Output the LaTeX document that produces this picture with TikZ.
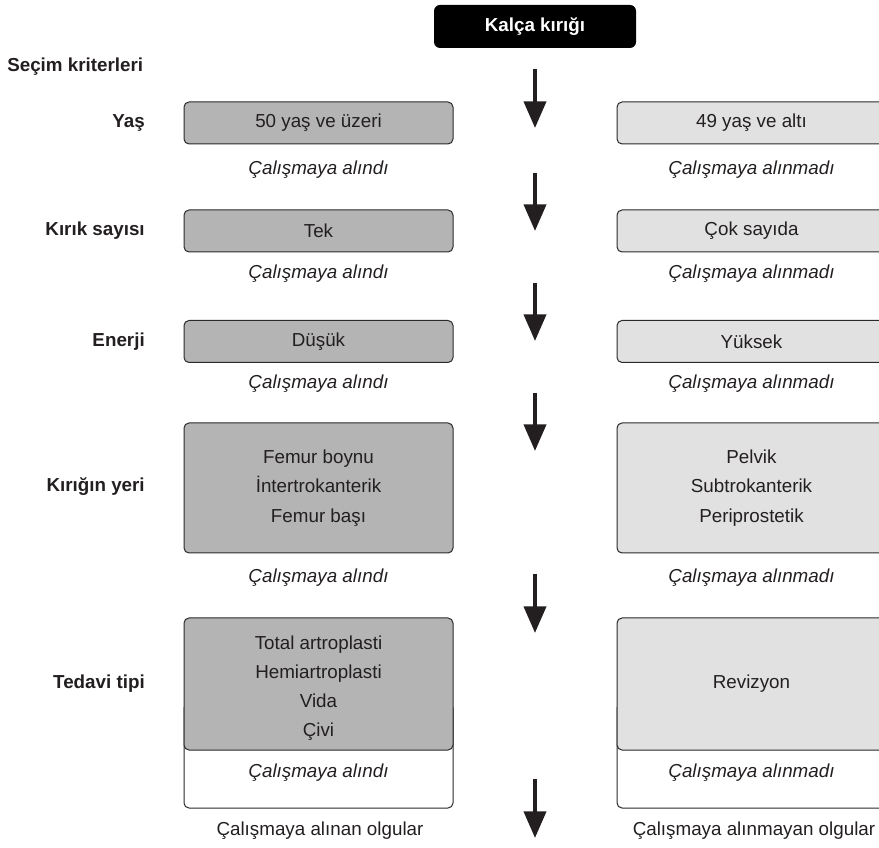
\documentclass[tikz,border=0pt]{standalone}
\usepackage{fontspec}
\setmainfont{Liberation Sans}
\usetikzlibrary{arrows.meta}
\definecolor{dgray}{HTML}{B4B4B4}
\definecolor{lgray}{HTML}{E1E1E1}
\definecolor{edge}{HTML}{2A2A2A}
\definecolor{ink}{HTML}{231F20}
\begin{document}
\begin{tikzpicture}[x=0.75pt,y=-0.75pt,
  every node/.style={font=\fontsize{14.1}{21.9}\selectfont, text=ink},
  box/.style={draw=edge, line width=0.75pt, rounded corners=3.75pt, minimum width=201.75pt, inner sep=0pt, align=center},
  inbox/.style={box, fill=dgray},
  outbox/.style={box, fill=lgray},
  wbox/.style={box, fill=white},
  crit/.style={anchor=east, inner xsep=0pt, font=\fontsize{14.1}{21.9}\selectfont\bfseries},
  note/.style={font=\fontsize{14.1}{21.9}\selectfont\itshape},
  flow/.style={line width=3pt, draw=ink, -{Triangle[width=16.5pt,length=20pt]}}
]
\useasboundingbox (0,0) rectangle (879,848);
\clip (0,0) rectangle (879,848);

% top
\node[fill=black, rounded corners=4.5pt, minimum width=151.5pt, minimum height=32.25pt, inner sep=0pt,
      text=white, font=\fontsize{14.1}{21.9}\selectfont\bfseries] (top) at (535,26.5) {Kalça kırığı};

\node[anchor=west, inner xsep=0pt, font=\fontsize{14.1}{21.9}\selectfont\bfseries] (sec) at (7,67) {Seçim kriterleri};

% criteria labels
\node[crit] (l1) at (145,123) {Yaş};
\node[crit] (l2) at (145,231) {Kırık sayısı};
\node[crit] (l3) at (145,341.5) {Enerji};
\node[crit] (l4) at (145,487) {Kırığın yeri};
\node[crit] (l5) at (145,684) {Tedavi tipi};

% row 1
\node[inbox, minimum height=31.5pt] (i1) at (318.5,123) {50 yaş ve üzeri};
\node[outbox, minimum height=31.5pt] (o1) at (751.5,123) {49 yaş ve altı};
\node[note] (ni1) at (318.5,170) {Çalışmaya alındı};
\node[note] (no1) at (751.5,170) {Çalışmaya alınmadı};

% row 2
\node[inbox, minimum height=31.5pt] (i2) at (318.5,231) {Tek};
\node[outbox, minimum height=31.5pt] (o2) at (751.5,231) {Çok sayıda};
\node[note] (ni2) at (318.5,274) {Çalışmaya alındı};
\node[note] (no2) at (751.5,274) {Çalışmaya alınmadı};

% row 3
\node[inbox, minimum height=31.5pt] (i3) at (318.5,341.5) {Düşük};
\node[outbox, minimum height=31.5pt] (o3) at (751.5,341.5) {Yüksek};
\node[note] (ni3) at (318.5,384) {Çalışmaya alındı};
\node[note] (no3) at (751.5,384) {Çalışmaya alınmadı};

% row 4
\node[inbox, minimum height=97.5pt] (i4) at (318.5,488) {Femur boynu\\İntertrokanterik\\Femur başı};
\node[outbox, minimum height=97.5pt] (o4) at (751.5,488) {Pelvik\\Subtrokanterik\\Periprostetik};
\node[note] (ni4) at (318.5,578) {Çalışmaya alındı};
\node[note] (no4) at (751.5,578) {Çalışmaya alınmadı};

% row 5
\node[wbox, minimum height=78.75pt] (wi5) at (318.5,755.5) {};
\node[wbox, minimum height=78.75pt] (wo5) at (751.5,755.5) {};
\node[inbox, minimum height=99pt] (i5) at (318.5,684) {};
\node[align=center, inner sep=0pt] (ti5) at (318.5,688) {Total artroplasti\\Hemiartroplasti\\Vida\\Çivi};
\node[outbox, minimum height=99pt] (o5) at (751.5,684) {Revizyon};
\node[note] (ni5) at (318.5,773) {Çalışmaya alındı};
\node[note] (no5) at (751.5,773) {Çalışmaya alınmadı};

% bottom labels
\node (bi) at (320,831) {Çalışmaya alınan olgular};
\node (bo) at (754,831) {Çalışmaya alınmayan olgular};

% arrows
\coordinate (a1s) at (535,69);  \coordinate (a1e) at (535,128);
\coordinate (a2s) at (535,173); \coordinate (a2e) at (535,231);
\coordinate (a3s) at (535,283); \coordinate (a3e) at (535,341);
\coordinate (a4s) at (535,393); \coordinate (a4e) at (535,451);
\coordinate (a5s) at (535,574); \coordinate (a5e) at (535,633);
\coordinate (a6s) at (535,779); \coordinate (a6e) at (535,838);
\foreach \k in {1,...,6} \draw[flow] (a\k s) -- (a\k e);
\end{tikzpicture}
\end{document}
